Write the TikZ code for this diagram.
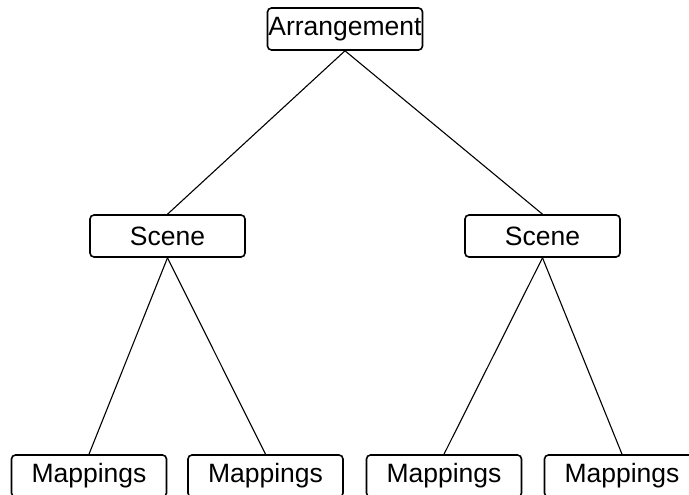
\documentclass[tikz,border=0pt]{standalone}
\usepackage{fontspec}
\setmainfont{Liberation Sans}
\begin{document}
\begin{tikzpicture}[x=1bp,y=-1bp,
  box/.style={draw, line width=1.6bp, rounded corners=4bp, minimum width=155bp,
    minimum height=42bp, inner sep=0pt, font=\fontsize{26.5bp}{28bp}\selectfont},
  edge/.style={line width=1.1bp}]
\useasboundingbox (0,0) rectangle (689,495);
\begin{scope}
\clip (0,0) rectangle (689,495);
\node[box] (arr) at (345,29) {Arrangement};
\node[box] (s1) at (167.5,236) {Scene};
\node[box] (s2) at (542.5,236) {Scene};
\node[box] (m1) at (89,476) {Mappings};
\node[box] (m2) at (265.5,476) {Mappings};
\node[box] (m3) at (444,476) {Mappings};
\node[box] (m4) at (622,476) {Mappings};
\draw[edge] (arr.south) -- (s1.north);
\draw[edge] (arr.south) -- (s2.north);
\draw[edge] (s1.south) -- (m1.north);
\draw[edge] (s1.south) -- (m2.north);
\draw[edge] (s2.south) -- (m3.north);
\draw[edge] (s2.south) -- (m4.north);
\end{scope}
\end{tikzpicture}
\end{document}
